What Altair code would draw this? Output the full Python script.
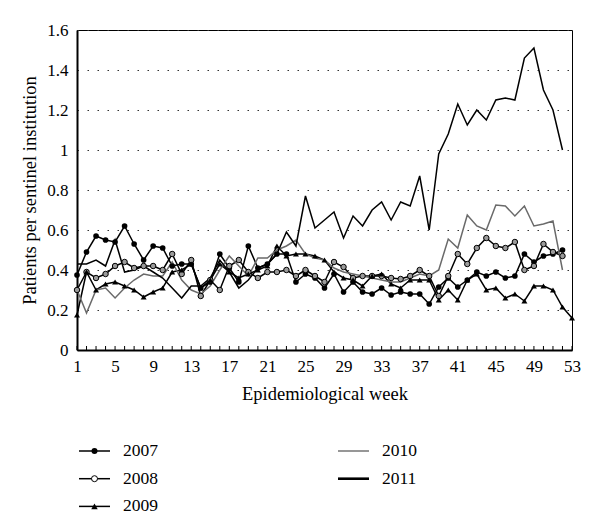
import altair as alt
import pandas as pd

years = ["2007", "2008", "2009", "2010", "2011"]

v2007 = [0.375, 0.49, 0.57, 0.55, 0.54, 0.62, 0.53, 0.45, 0.52, 0.51,
         0.42, 0.43, 0.43, 0.31, 0.34, 0.48, 0.41, 0.34, 0.52, 0.41,
         0.43, 0.48, 0.48, 0.34, 0.38, 0.36, 0.31, 0.38, 0.29, 0.34,
         0.29, 0.28, 0.31, 0.275, 0.29, 0.28, 0.28, 0.23, 0.315, 0.36,
         0.315, 0.35, 0.39, 0.37, 0.39, 0.36, 0.37, 0.48, 0.44, 0.47,
         0.48, 0.50]
v2008 = [0.30, 0.39, 0.36, 0.38, 0.42, 0.44, 0.41, 0.42, 0.42, 0.40,
         0.48, 0.38, 0.45, 0.27, 0.35, 0.30, 0.42, 0.45, 0.39, 0.36,
         0.39, 0.39, 0.40, 0.37, 0.40, 0.37, 0.34, 0.44, 0.415, 0.36,
         0.37, 0.37, 0.37, 0.36, 0.355, 0.37, 0.40, 0.37, 0.27, 0.37,
         0.48, 0.43, 0.51, 0.56, 0.52, 0.51, 0.54, 0.40, 0.42, 0.53,
         0.49, 0.47]
v2009 = [0.175, 0.39, 0.30, 0.33, 0.34, 0.32, 0.30, 0.265, 0.29, 0.31,
         0.39, 0.40, 0.43, 0.31, 0.35, 0.43, 0.39, 0.36, 0.38, 0.40,
         0.42, 0.52, 0.47, 0.48, 0.48, 0.47, 0.45, 0.39, 0.36, 0.35,
         0.32, 0.37, 0.38, 0.33, 0.31, 0.35, 0.35, 0.35, 0.25, 0.30,
         0.25, 0.35, 0.38, 0.30, 0.31, 0.26, 0.28, 0.245, 0.32, 0.32,
         0.30, 0.215, 0.16]
v2010 = [0.30, 0.185, 0.30, 0.31, 0.26, 0.31, 0.35, 0.38, 0.37, 0.37,
         0.44, 0.35, 0.30, 0.28, 0.32, 0.40, 0.47, 0.42, 0.37, 0.46,
         0.46, 0.50, 0.52, 0.55, 0.48, 0.46, 0.45, 0.41, 0.39, 0.38,
         0.37, 0.36, 0.35, 0.34, 0.34, 0.36, 0.38, 0.37, 0.40, 0.555,
         0.51, 0.675, 0.62, 0.60, 0.725, 0.72, 0.67, 0.72, 0.62, 0.63,
         0.645, 0.40]
v2011 = [0.43, 0.43, 0.45, 0.42, 0.55, 0.39, 0.40, 0.42, 0.39, 0.36,
         0.31, 0.26, 0.32, 0.32, 0.36, 0.45, 0.39, 0.31, 0.35, 0.41,
         0.43, 0.48, 0.59, 0.52, 0.77, 0.61, 0.65, 0.69, 0.56, 0.67,
         0.62, 0.70, 0.74, 0.65, 0.74, 0.72, 0.87, 0.60, 0.98, 1.08,
         1.23, 1.125, 1.20, 1.15, 1.25, 1.26, 1.25, 1.46, 1.51, 1.30,
         1.20, 1.00]

x_tick_labels = list(range(1, 54, 4))
y_tick_values = [0, 0.2, 0.4, 0.6, 0.8, 1.0, 1.2, 1.4, 1.6]
all_weeks = list(range(1, 54))

series = {"2007": v2007, "2008": v2008, "2009": v2009, "2010": v2010, "2011": v2011}
rows = []
for yr, vals in series.items():
    for i, v in enumerate(vals):
        rows.append({"year": yr, "week": i + 1, "value": v})
df = pd.DataFrame(rows)

FONT = "Liberation Serif"

x_scale = alt.Scale(domain=[1, 53], nice=False, zero=False)
y_scale = alt.Scale(domain=[0, 1.6], nice=False)

line_colors = alt.Scale(domain=years, range=["#000000", "#000000", "#000000", "#6a6a6a", "#000000"])
line_widths = alt.Scale(domain=years, range=[1.5, 1.5, 1.5, 1.4, 2.6])

x_axis = alt.Axis(values=x_tick_labels, title="Epidemiological week", grid=False,
                  ticks=False, labelPadding=8, titlePadding=10,
                  labelOverlap=False, labelFlush=False, labelBound=False,
                  domainColor="black", domainWidth=2)
y_axis = alt.Axis(values=y_tick_values, format="~g",
                  title="Patients per sentinel institution",
                  ticks=False, labelPadding=9, titlePadding=7,
                  labelOverlap=False, labelFlush=False, labelBound=False,
                  grid=True, gridDash=[1.5, 8.5], gridColor="#333333",
                  gridWidth=1, domainColor="black", domainWidth=2)

def xe(field="week:Q"):
    return alt.X(field, scale=x_scale, axis=x_axis)

def ye(field="value:Q"):
    return alt.Y(field, scale=y_scale, axis=y_axis)

base = alt.Chart(df)

lines = base.mark_line().encode(
    x=xe(), y=ye(),
    color=alt.Color("year:N", scale=line_colors, legend=None),
    strokeWidth=alt.StrokeWidth("year:N", scale=line_widths, legend=None),
    detail="year:N",
    order=alt.Order("week:Q"),
)

p2007 = base.transform_filter(alt.datum.year == "2007").mark_point(
    shape="circle", filled=True, color="black", size=32, opacity=1
).encode(x=xe(), y=ye())
p2008 = base.transform_filter(alt.datum.year == "2008").mark_point(
    shape="circle", filled=False, fill="#9a9a9a", stroke="black", strokeWidth=1, size=30, opacity=1
).encode(x=xe(), y=ye())
p2009 = base.transform_filter(alt.datum.year == "2009").mark_point(
    shape="triangle-up", filled=True, color="black", size=36, opacity=1
).encode(x=xe(), y=ye())

weeks_df = pd.DataFrame({"week": all_weeks})
week_ticks = alt.Chart(weeks_df).mark_rule(color="black", strokeWidth=1).encode(
    x=xe(), y=alt.value(320), y2=alt.value(316)
)

# legend (two columns below the chart)
legend_layers = []
legend_pos = {
    "2007": (0, 0), "2008": (0, 1), "2009": (0, 2),
    "2010": (1, 0), "2011": (1, 1),
}
for yr in years:
    col, row = legend_pos[yr]
    x0 = 2 if col == 0 else 261
    ly = 421 + row * 27.7
    ldf = pd.DataFrame({"year": [yr]})
    if yr == "2010":
        lc, lw = "#6a6a6a", 1.4
    elif yr == "2011":
        lc, lw = "#000000", 2.6
    else:
        lc, lw = "#000000", 1.5
    legend_layers.append(alt.Chart(ldf).mark_rule(color=lc, strokeWidth=lw).encode(
        x=alt.value(x0), x2=alt.value(x0 + 31), y=alt.value(ly)))
    if yr == "2007":
        legend_layers.append(alt.Chart(ldf).mark_point(shape="circle", filled=True, color="black", size=36, opacity=1).encode(
            x=alt.value(x0 + 15.5), y=alt.value(ly)))
    elif yr == "2008":
        legend_layers.append(alt.Chart(ldf).mark_point(shape="circle", filled=False, fill="white", stroke="black", strokeWidth=1, size=36, opacity=1).encode(
            x=alt.value(x0 + 15.5), y=alt.value(ly)))
    elif yr == "2009":
        legend_layers.append(alt.Chart(ldf).mark_point(shape="triangle-up", filled=True, color="black", size=42, opacity=1).encode(
            x=alt.value(x0 + 15.5), y=alt.value(ly)))
    legend_layers.append(alt.Chart(ldf).mark_text(align="left", baseline="middle", font=FONT, fontSize=17.5, color="black").encode(
        x=alt.value(x0 + 44), y=alt.value(ly), text="year:N"))

chart = alt.layer(lines, p2007, p2008, p2009, week_ticks, *legend_layers).properties(
    width=495, height=320,
    padding={"left": 69, "top": 22, "right": 20, "bottom": 166},
    autosize=alt.AutoSizeParams(type="none"),
).configure_view(stroke="black", strokeWidth=1).configure_axis(
    labelFont=FONT, titleFont=FONT, labelFontSize=17, titleFontSize=18.5,
    labelColor="black", titleColor="black", titleFontWeight="normal",
)

chart.save("out.html", embed_options={"renderer": "svg", "actions": False})
